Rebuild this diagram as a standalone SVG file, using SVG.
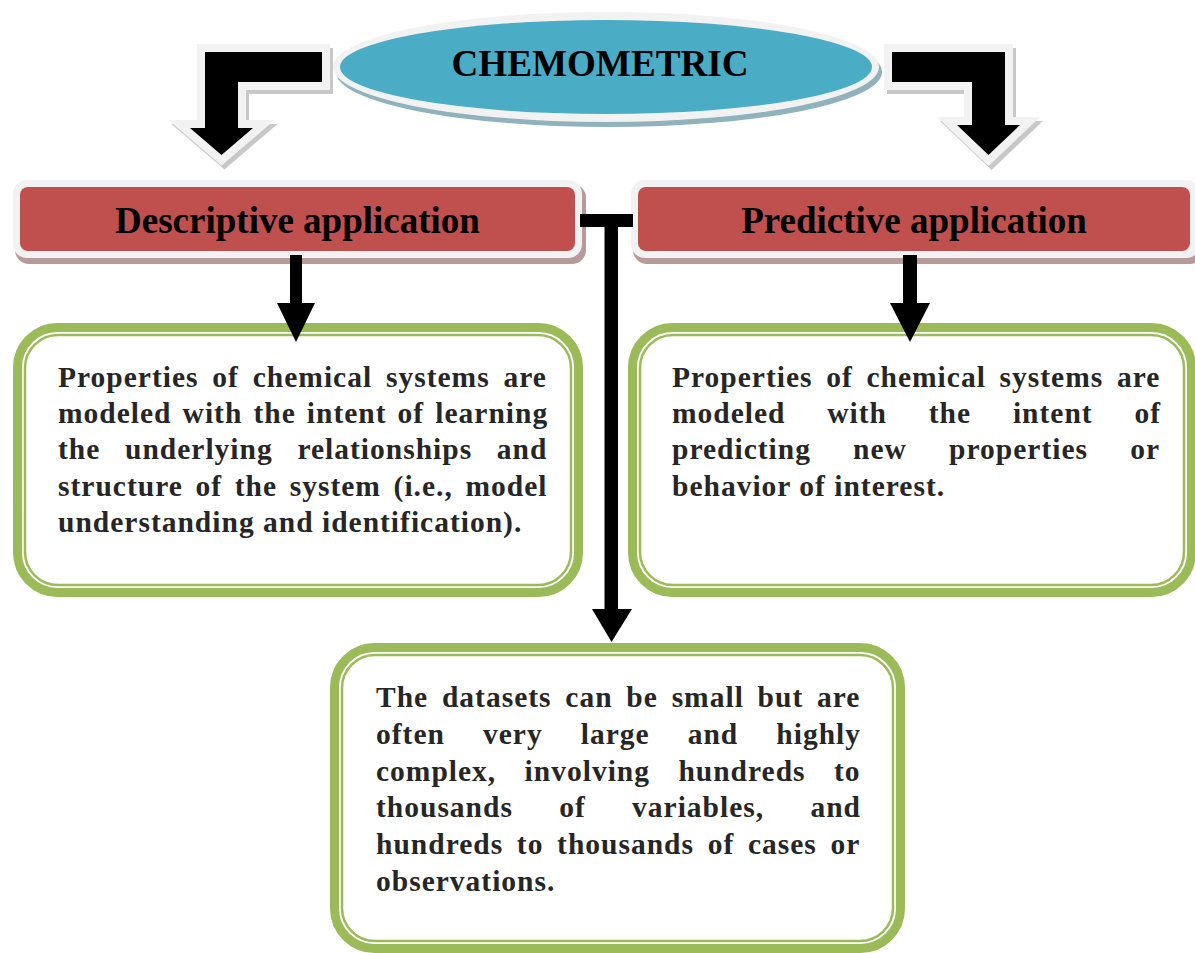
<svg xmlns="http://www.w3.org/2000/svg" width="1195" height="953" viewBox="0 0 1195 953">
<style>
.head{font-family:"Liberation Serif","Times New Roman",serif;font-weight:bold;font-size:37px;fill:#000;text-anchor:middle}
.body{font-family:"Liberation Serif","Times New Roman",serif;font-weight:bold;font-size:29.5px;fill:#262626;letter-spacing:1px}
.gthick{fill:#fff;stroke:#9bbb59;stroke-width:9}
.gthin{fill:none;stroke:#9bbb59;stroke-width:2.5}
.rshadow{fill:#b99a9a}
.rborder{fill:#f2f2f2}
.rfill{fill:#c0504d}
.ashadow{fill:#c8c8c8;stroke:#c8c8c8;stroke-width:16;stroke-linejoin:miter}
.aoutline{fill:#f2f2f2;stroke:#f2f2f2;stroke-width:16;stroke-linejoin:miter}
.ablack{fill:#000}
.conn{fill:#000}
</style>
<rect width="1195" height="953" fill="#fff"/>

<g id="bent-arrow-left">
<path class="ashadow" d="M325,56 H208 V132 H193 L224.5,159 L256,132 H241 V86 H325 Z"/>
<path class="aoutline" d="M322,52 H205 V128 H190 L221.5,155 L253,128 H238 V82 H322 Z"/>
<path class="ablack" d="M322,52 H205 V128 H190 L221.5,155 L253,128 H238 V82 H322 Z"/>
</g>
<g id="bent-arrow-right">
<path class="ashadow" d="M895,56 H1008 V129 H1023 L991.5,159 L960,129 H975 V86 H895 Z"/>
<path class="aoutline" d="M892,52 H1005 V125 H1020 L988.5,155 L957,125 H972 V82 H892 Z"/>
<path class="ablack" d="M892,52 H1005 V125 H1020 L988.5,155 L957,125 H972 V82 H892 Z"/>
</g>

<g id="chemometric">
<ellipse cx="609" cy="72" rx="273" ry="55" fill="#8fb2bc"/>
<ellipse cx="606" cy="67" rx="273" ry="55" fill="#f2f2f2"/>
<ellipse cx="606" cy="67" rx="266" ry="47" fill="#4bacc6"/>
<text class="head" x="600" y="76" textLength="297" lengthAdjust="spacingAndGlyphs">CHEMOMETRIC</text>
</g>

<g id="descriptive">
<rect class="rshadow" x="15" y="184" width="571" height="80" rx="14"/>
<rect class="rborder" x="13" y="180" width="569" height="78" rx="14"/>
<rect class="rfill" x="20" y="187" width="555" height="64" rx="8"/>
<text class="head" x="297.5" y="233">Descriptive application</text>
</g>

<g id="predictive">
<rect class="rshadow" x="633" y="184" width="571" height="80" rx="14"/>
<rect class="rborder" x="631" y="180" width="569" height="78" rx="14"/>
<rect class="rfill" x="638" y="187" width="552" height="64" rx="8"/>
<text class="head" x="914" y="233">Predictive application</text>
</g>

<g id="descriptive-detail">
<rect class="gthick" x="17.5" y="327.5" width="561" height="265" rx="40"/>
<rect class="gthin" x="25" y="335" width="546" height="250" rx="33"/>
<text class="body" x="58" y="387" style="word-spacing:5.45px">Properties of chemical systems are</text>
<text class="body" x="58" y="423" style="word-spacing:2.7px">modeled with the intent of learning</text>
<text class="body" x="58" y="459" style="word-spacing:16.3px">the underlying relationships and</text>
<text class="body" x="58" y="496" style="word-spacing:4.3px">structure of the system (i.e., model</text>
<text class="body" x="58" y="532">understanding and identification).</text>
</g>

<g id="predictive-detail">
<rect class="gthick" x="632.5" y="327.5" width="559" height="265" rx="40"/>
<rect class="gthin" x="640" y="335" width="544" height="250" rx="33"/>
<text class="body" x="672" y="387" style="word-spacing:5.3px">Properties of chemical systems are</text>
<text class="body" x="672" y="423" style="word-spacing:33.4px">modeled with the intent of</text>
<text class="body" x="672" y="459" style="word-spacing:33.8px">predicting new properties or</text>
<text class="body" x="672" y="496">behavior of interest.</text>
</g>

<g id="datasets">
<rect class="gthick" x="334.5" y="647.5" width="566" height="301" rx="40"/>
<rect class="gthin" x="342" y="655" width="551" height="286" rx="33"/>
<text class="body" x="376" y="707" style="word-spacing:5.4px">The datasets can be small but are</text>
<text class="body" x="376" y="744" style="word-spacing:29.7px">often very large and highly</text>
<text class="body" x="376" y="781" style="word-spacing:20px">complex, involving hundreds to</text>
<text class="body" x="376" y="817" style="word-spacing:37.9px">thousands of variables, and</text>
<text class="body" x="376" y="854" style="word-spacing:5.3px">hundreds to thousands of cases or</text>
<text class="body" x="376" y="891">observations.</text>
</g>

<g id="connectors">
<rect class="conn" x="290" y="255" width="12" height="49"/>
<polygon class="conn" points="277,303 315,303 296,342"/>
<rect class="conn" x="903" y="255" width="14" height="49"/>
<polygon class="conn" points="890,303 930,303 910,342"/>
<rect class="conn" x="580" y="214" width="53" height="13"/>
<rect class="conn" x="604.5" y="214" width="13.5" height="396"/>
<polygon class="conn" points="592,609 632,609 611.5,642"/>
</g>
</svg>
